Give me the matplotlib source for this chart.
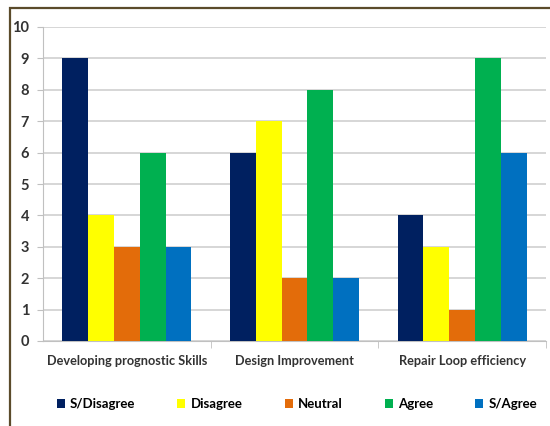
import numpy as np
import matplotlib.pyplot as plt
from matplotlib.patches import Rectangle

categories = ["Developing prognostic Skills", "Design Improvement", "Repair Loop efficiency"]
series_names = ["S/Disagree", "Disagree", "Neutral", "Agree", "S/Agree"]
s_disagree = [9, 6, 4]
disagree = [4, 7, 3]
neutral = [3, 2, 1]
agree = [6, 8, 9]
s_agree = [3, 2, 6]
colors = ["#002060", "#FFFF00", "#E36C0A", "#00B050", "#0070C0"]

plt.rcParams['font.family'] = ['Lato', 'DejaVu Sans']
plt.rcParams['font.weight'] = 'bold'

fig = plt.figure(figsize=(5.5, 4.26), dpi=100)
ax = fig.add_axes([43 / 550, 1 - 341 / 426, 503 / 550, 314 / 426])

# outer frame, only the top and left edges fall inside the image
fig.patches.append(Rectangle((10 / 550, -0.1), 1.2, 1 - 7.5 / 426 + 0.1,
                             transform=fig.transFigure, fill=False,
                             edgecolor="#5b4b2b", linewidth=1.6))

x = np.arange(len(categories))
width = 0.154
values = [s_disagree, disagree, neutral, agree, s_agree]
for i, (name, vals) in enumerate(zip(series_names, values)):
    ax.bar(x + (i - 2) * width, vals, width, color=colors[i], label=name, zorder=3)

ax.set_xlim(-0.5, 2.5)
ax.set_ylim(0, 10)
ax.set_yticks(range(0, 11))
ax.yaxis.grid(True, color="#d0d0d0", linewidth=1.2, zorder=0)
ax.set_xticks(x)
ax.set_xticklabels(categories, fontsize=9.2, fontweight='bold', color="#333333")
ax.set_xticks([0.5, 1.5, 2.5], minor=True)
ax.tick_params(axis='x', which='major', length=0, pad=10)
ax.tick_params(axis='x', which='minor', length=5, color="#c0c0c0")
ax.tick_params(axis='y', length=4, color="#c0c0c0", labelsize=10.5, labelcolor="#333333", pad=6)
for side in ["top", "right"]:
    ax.spines[side].set_visible(False)
ax.spines["left"].set_color("#c0c0c0")
ax.spines["bottom"].set_color("#c0c0c0")

fig.legend(loc="center", bbox_to_anchor=(0.54, 1 - 404 / 426), ncol=5, frameon=False,
           fontsize=9.5, handlelength=0.6, handleheight=0.6, handletextpad=0.4,
           columnspacing=3.2)

fig.savefig("out.png", dpi=100)
